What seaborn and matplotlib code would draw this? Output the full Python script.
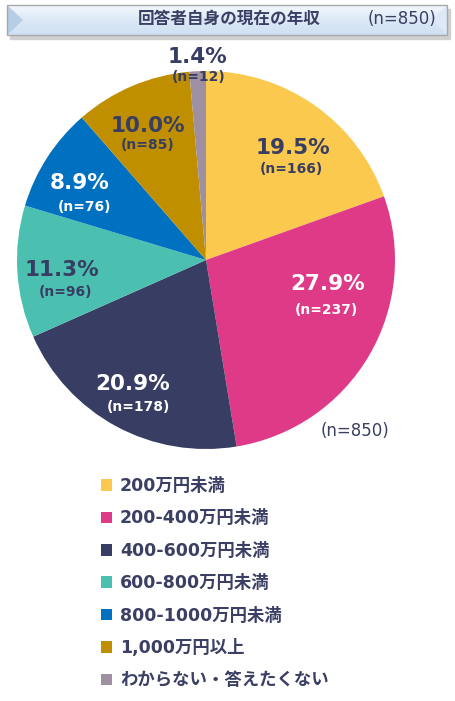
import numpy as np
import matplotlib
matplotlib.use("Agg")
import matplotlib.pyplot as plt
import seaborn as sns
from matplotlib.patches import Rectangle, Polygon, Patch

sns.set_theme(style="white")
plt.rcParams['font.family'] = ['DejaVu Sans', 'Noto Sans CJK JP']

# ---- data ----
categories = ["200万円未満", "200-400万円未満", "400-600万円未満", "600-800万円未満",
              "800-1000万円未満", "1,000万円以上", "わからない・答えたくない"]
counts = [166, 237, 178, 96, 76, 85, 12]
percents = ["19.5%", "27.9%", "20.9%", "11.3%", "8.9%", "10.0%", "1.4%"]
total_n = 850
title = "回答者自身の現在の年収"

colors = sns.color_palette(["#FBC94E", "#DE3A87", "#373D63", "#4BC0B0",
                            "#0070C0", "#BF8F00", "#9E90A0"])
navy = "#373D63"
label_colors = [navy, "white", "white", navy, "white", navy, navy]
# label centres (x_pct, y_pct, x_n, y_n) in pie units relative to centre
label_pos = [(0.46, 0.59, 0.45, 0.48), (0.645, -0.127, 0.635, -0.265),
             (-0.386, -0.656, -0.36, -0.78), (-0.762, -0.053, -0.745, -0.17),
             (-0.667, 0.407, -0.645, 0.28), (-0.307, 0.709, -0.307, 0.608),
             (-0.048, 1.074, -0.037, 0.968)]

W, H = 455, 701
fig = plt.figure(figsize=(W / 100, H / 100), dpi=100)

def fx(px):
    return px / W

def fy(py):
    return 1 - py / H

# ---- title box ----
tax = fig.add_axes([0, 0, 1, 1], zorder=0)
tax.set_xlim(0, W)
tax.set_ylim(H, 0)
tax.axis("off")
x0, x1, y0, y1 = 7, 447, 5, 35
tax.add_patch(Rectangle((x0 + 3, y0 + 4), x1 - x0, y1 - y0, color="#d0d0d0", zorder=1))
grad = np.linspace(0, 1, 50).reshape(-1, 1)
cmap = matplotlib.colors.LinearSegmentedColormap.from_list("g", ["#f4f8fd", "#dbe8f6", "#cfe1f4"])
tax.imshow(grad, extent=(x0, x1, y1, y0), cmap=cmap, aspect="auto", zorder=2)
tax.add_patch(Polygon([(x0, y0), (x0 + 16, y0 + 15), (x0, y1)], closed=True,
                      color="#b6cde6", zorder=3, lw=0))
tax.add_patch(Polygon([(x1, y0), (x1 - 14, y0 + 15), (x1, y1)], closed=True,
                      color="#dde9f6", zorder=3, lw=0))
tax.add_patch(Rectangle((x0, y0), x1 - x0, y1 - y0, fill=False, ec="#a8a8a8", lw=1, zorder=4))
tax.text(229, 19, title, ha="center", va="center", fontsize=12, fontweight="bold",
         color="#3A3F63", zorder=5)
tax.text(402, 19, f"(n={total_n})", ha="center", va="center", fontsize=12,
         color="#3A3F63", zorder=5)
tax.text(355, 431, f"(n={total_n})", ha="center", va="center", fontsize=12,
         color="#3A3F63", zorder=5)

# ---- pie ----
cx, cy, r = 206, 260, 189
ax = fig.add_axes([fx(cx - r), fy(cy + r), 2 * r / W, 2 * r / H], zorder=2)
wedges, _ = ax.pie(counts, colors=colors, startangle=90, counterclock=False,
                   radius=1.0, wedgeprops=dict(linewidth=0))
ax.set_xlim(-1, 1)
ax.set_ylim(-1, 1)
ax.set_aspect("equal")
ax.axis("off")
for pct, n, (px, py, nx, ny), c in zip(percents, counts, label_pos, label_colors):
    ax.text(px, py, pct, ha="center", va="center", fontsize=15.5, fontweight="bold",
            color=c, clip_on=False)
    ax.text(nx, ny, f"(n={n})", ha="center", va="center", fontsize=10, fontweight="bold",
            color=c, clip_on=False)

# ---- legend ----
handles = [Patch(facecolor=c, edgecolor="none") for c in colors]
leg = fig.legend(handles, categories, loc="upper left", bbox_to_anchor=(fx(101), fy(477)),
                 frameon=False, fontsize=12.5, handlelength=0.65, handleheight=0.65,
                 handletextpad=0.45, labelspacing=0.83, borderpad=0, borderaxespad=0)
for t in leg.get_texts():
    t.set_fontweight("bold")
    t.set_color("#3A3F63")

fig.savefig("out.png", dpi=100)
